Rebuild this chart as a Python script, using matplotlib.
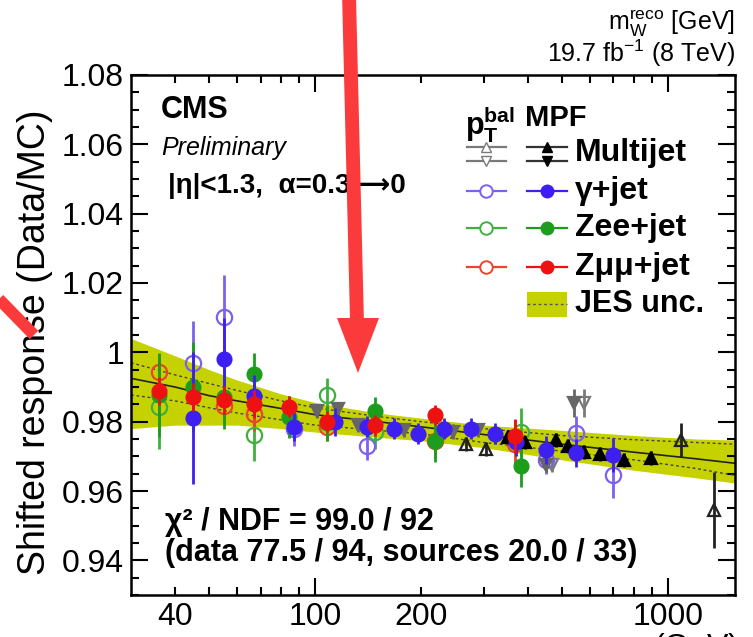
import matplotlib
matplotlib.use("Agg")
import matplotlib.pyplot as plt
from matplotlib.lines import Line2D
from matplotlib.patches import Polygon, Rectangle
from matplotlib.ticker import FixedLocator, FixedFormatter

plt.rcParams['font.family'] = ['Liberation Sans', 'DejaVu Sans']
plt.rcParams['mathtext.fontset'] = 'custom'
plt.rcParams['mathtext.rm'] = 'Liberation Sans'
plt.rcParams['mathtext.it'] = 'Liberation Sans:italic'
plt.rcParams['mathtext.bf'] = 'Liberation Sans:bold'

# JES uncertainty band and fit line
band_x = [30, 40, 50, 60, 80, 100, 150, 200, 300, 500, 800, 1200, 1550]
band_hi = [1.004, 0.999, 0.995, 0.992, 0.988, 0.9855, 0.9825, 0.981, 0.979, 0.9775, 0.976, 0.975, 0.9747]
band_lo = [0.978, 0.979, 0.979, 0.979, 0.978, 0.977, 0.9755, 0.9745, 0.9725, 0.969, 0.966, 0.9638, 0.9623]
fit_y = [0.9925, 0.990, 0.9875, 0.986, 0.9838, 0.982, 0.980, 0.9785, 0.9763, 0.9735, 0.9712, 0.9693, 0.968]
dot_hi = [0.997, 0.9935, 0.991, 0.989, 0.986, 0.984, 0.9815, 0.980, 0.978, 0.976, 0.9748, 0.974, 0.9735]
dot_lo = [0.9877, 0.986, 0.984, 0.9825, 0.9805, 0.979, 0.9775, 0.9765, 0.974, 0.9715, 0.969, 0.9665, 0.9645]

# gamma+jet
gj_mpf_x = [45, 55, 67, 87, 114, 140, 167, 195, 231, 276, 324, 370, 450, 548, 700]
gj_mpf_y = [0.9811, 0.998, 0.9874, 0.9785, 0.980, 0.9785, 0.978, 0.9765, 0.978, 0.978, 0.9765, 0.974, 0.9718, 0.971, 0.9704]
gj_mpf_e = [0.019, 0.012, 0.006, 0.004, 0.004, 0.003, 0.003, 0.003, 0.003, 0.003, 0.003, 0.004, 0.004, 0.004, 0.005]
gj_bal_x = [45, 55, 87, 140, 450, 548, 700]
gj_bal_y = [0.9969, 1.0102, 0.978, 0.973, 0.969, 0.9767, 0.9646]
gj_bal_e = [0.012, 0.012, 0.005, 0.004, 0.004, 0.005, 0.0065]

# Zee+jet
zee_mpf_x = [36, 45, 55, 67, 84, 108, 148, 218, 382]
zee_mpf_y = [0.9877, 0.990, 0.987, 0.9938, 0.9814, 0.9795, 0.9831, 0.9744, 0.9672]
zee_mpf_e = [0.012, 0.013, 0.009, 0.006, 0.006, 0.005, 0.004, 0.006, 0.006]
zee_bal_x = [36, 67, 108, 148, 382]
zee_bal_y = [0.9842, 0.9762, 0.9877, 0.977, 0.977]
zee_bal_e = [0.012, 0.0075, 0.005, 0.005, 0.007]

# Zmumu+jet
zmm_mpf_x = [36, 45, 55, 67, 84, 108, 148, 218, 368]
zmm_mpf_y = [0.9889, 0.9871, 0.9863, 0.9851, 0.9843, 0.980, 0.979, 0.9819, 0.9759]
zmm_mpf_e = [0.004, 0.004, 0.004, 0.004, 0.003, 0.003, 0.003, 0.003, 0.005]
zmm_bal_x = [36, 55, 67, 108, 218, 368]
zmm_bal_y = [0.9943, 0.9845, 0.9822, 0.9785, 0.9745, 0.9735]
zmm_bal_e = [0.005, 0.005, 0.005, 0.004, 0.005, 0.007]

# multijet
mj_mpf_x = [351, 394, 483, 520, 577, 643, 750, 895]
mj_mpf_y = [0.9756, 0.974, 0.9747, 0.973, 0.9712, 0.9707, 0.969, 0.9695]
mj_mpf_e = [0.002, 0.002, 0.002, 0.002, 0.002, 0.002, 0.002, 0.002]
mj_bal_x = [268, 305, 1087, 1350]
mj_bal_y = [0.9735, 0.972, 0.9747, 0.9545]
mj_bal_e = [0.002, 0.002, 0.005, 0.011]
mjd_mpf_x = [101, 116, 132, 178, 246, 290, 450, 541]
mjd_mpf_y = [0.983, 0.9837, 0.979, 0.9775, 0.977, 0.9775, 0.9675, 0.9854]
mjd_mpf_e = [0.002, 0.002, 0.002, 0.002, 0.002, 0.002, 0.002, 0.004]
mjd_bal_x = [470, 577]
mjd_bal_y = [0.9675, 0.9854]
mjd_bal_e = [0.002, 0.004]

x_major = [100, 1000]
x_minor = [40, 50, 60, 70, 80, 90, 200, 300, 400, 500, 600, 700, 800, 900]
x_minor_labels = ['40', '', '', '', '', '', '200', '', '', '', '', '', '', '']
y_ticks = [0.94, 0.96, 0.98, 1.00, 1.02, 1.04, 1.06, 1.08]
y_labels = ['0.94', '0.96', '0.98', '1', '1.02', '1.04', '1.06', '1.08']

W, H = 753, 637
fig = plt.figure(figsize=(W / 100, H / 100), dpi=100)
ax = fig.add_axes([131 / W, 1 - 595 / H, 604 / W, 520 / H])

band_col = '#c6d200'
ax.fill_between(band_x, band_lo, band_hi, color=band_col, lw=0, zorder=1)
ax.plot(band_x, fit_y, color='#222222', lw=1.2, zorder=2)
ax.plot(band_x, dot_hi, color='#444444', lw=1.0, ls=(0, (2, 2)), zorder=2)
ax.plot(band_x, dot_lo, color='#444444', lw=1.0, ls=(0, (2, 2)), zorder=2)

blue = '#3d1ff0'
purple = '#7c60f0'
green = '#1c9e1c'
lgreen = '#3fb03f'
red = '#ee1111'
lred = '#e8452c'
gray = '#7a7a7a'


def draw(x, y, e, color, marker, ms, filled, z):
    ax.errorbar(x, y, yerr=e, fmt=marker, color=color, ms=ms,
                mfc=color if filled else 'none', mec=color, mew=1.6,
                elinewidth=2.0, capsize=0, zorder=z)


draw(gj_bal_x, gj_bal_y, gj_bal_e, purple, 'o', 11, False, 3)
draw(zee_bal_x, zee_bal_y, zee_bal_e, lgreen, 'o', 11, False, 3)
draw(zmm_bal_x, zmm_bal_y, zmm_bal_e, lred, 'o', 11, False, 3)
draw(mj_bal_x, mj_bal_y, mj_bal_e, '#222222', '^', 9, False, 3)
draw(mjd_bal_x, mjd_bal_y, mjd_bal_e, gray, 'v', 9, False, 3)
draw(mjd_mpf_x, mjd_mpf_y, mjd_mpf_e, '#666666', 'v', 8, True, 4)
draw(mj_mpf_x, mj_mpf_y, mj_mpf_e, 'black', '^', 9, True, 4)
draw(zee_mpf_x, zee_mpf_y, zee_mpf_e, green, 'o', 10, True, 4)
draw(gj_mpf_x, gj_mpf_y, gj_mpf_e, blue, 'o', 10, True, 5)
draw(zmm_mpf_x, zmm_mpf_y, zmm_mpf_e, red, 'o', 10, True, 6)

ax.set_xscale('log')
ax.set_xlim(30, 1550)
ax.set_ylim(0.93, 1.08)
ax.xaxis.set_major_locator(FixedLocator(x_major))
ax.xaxis.set_major_formatter(FixedFormatter(['100', '1000']))
ax.xaxis.set_minor_locator(FixedLocator(x_minor))
ax.xaxis.set_minor_formatter(FixedFormatter(x_minor_labels))
ax.set_yticks(y_ticks, labels=y_labels)
ax.set_yticks([0.93 + 0.005 * i for i in range(31)], minor=True)
ax.tick_params(which='both', direction='in', top=True, right=True, width=1.5, labelsize=23)
ax.tick_params(which='major', length=12)
ax.tick_params(which='minor', length=6)
ax.tick_params(axis='x', which='both', pad=5)
ax.tick_params(axis='y', which='both', pad=5)
for s in ax.spines.values():
    s.set_linewidth(1.8)

fig.text(35 / W, 1 - 342 / H, 'Shifted response (Data/MC)', rotation=90,
         ha='center', va='center', fontsize=27)
# x-axis title, mostly cut off by the lower edge as in the reference
fig.text(738 / W, 1 - 631 / H, r'$p_{T}$ (GeV)', ha='right', va='top', fontsize=23)
fig.text(735 / W, 1 - 30 / H, r'm$_{\mathrm{W}}^{\mathrm{reco}}$ [GeV]', ha='right',
         va='baseline', fontsize=18)
fig.text(735 / W, 1 - 62 / H, r'19.7 fb$^{-1}$ (8 TeV)', ha='right',
         va='baseline', fontsize=18)

ax.text(0.05, 0.917, 'CMS', transform=ax.transAxes, fontsize=22,
        fontweight='bold', va='baseline')
ax.text(0.05, 0.846, 'Preliminary', transform=ax.transAxes, fontsize=18,
        fontstyle='italic', va='baseline')
ax.text(0.062, 0.774, '|η|<1.3,  α=0.3⟶0', transform=ax.transAxes,
        fontsize=20, fontweight='bold', va='baseline')
ax.text(0.056, 0.125, 'χ² / NDF = 99.0 / 92', transform=ax.transAxes,
        fontsize=22, fontweight='bold', va='baseline')
ax.text(0.056, 0.065, '(data 77.5 / 94, sources 20.0 / 33)', transform=ax.transAxes,
        fontsize=22, fontweight='bold', va='baseline')

# legend
tr = ax.transAxes
lx = (0.556, 0.621)
rx = (0.656, 0.722)
ax.text(0.553, 0.905, r'$\mathbf{p}_{\mathbf{T}}^{\mathbf{bal}}$', transform=tr,
        fontsize=22, va='center', ha='left')
ax.text(0.652, 0.917, 'MPF', transform=tr, fontsize=21, fontweight='bold', va='center')
for yy, mk in ((0.8615, '^'), (0.8346, 'v')):
    ax.plot(lx, (yy, yy), color=gray, lw=1.6, transform=tr, clip_on=False)
    ax.plot([sum(lx) / 2], [yy], mk, ms=7, mfc='white', mec=gray, transform=tr, clip_on=False)
    ax.plot(rx, (yy, yy), color='#333333', lw=1.6, transform=tr, clip_on=False)
    ax.plot([sum(rx) / 2], [yy], mk, ms=7, color='black', transform=tr, clip_on=False)
ax.text(0.735, 0.85, 'Multijet', transform=tr, fontsize=23, fontweight='bold', va='center')
rows = [(0.777, purple, blue, 'γ+jet'),
        (0.706, lgreen, green, 'Zee+jet'),
        (0.631, lred, red, 'Zμμ+jet')]
for yy, c_open, c_fill, lab in rows:
    ax.plot(lx, (yy, yy), color=c_open, lw=1.6, transform=tr, clip_on=False)
    ax.plot([sum(lx) / 2], [yy], 'o', ms=9, mfc='white', mec=c_open, mew=1.4,
            transform=tr, clip_on=False)
    ax.plot(rx, (yy, yy), color=c_fill, lw=1.6, transform=tr, clip_on=False)
    ax.plot([sum(rx) / 2], [yy], 'o', ms=9, color=c_fill, transform=tr, clip_on=False)
    ax.text(0.735, yy, lab, transform=tr, fontsize=23, fontweight='bold', va='center')
ax.add_patch(Rectangle((0.656, 0.535), 0.066, 0.048, transform=tr, color=band_col,
                       lw=0, zorder=5))
ax.plot(rx, (0.559, 0.559), color='#555555', lw=1.0, ls=(0, (2, 2)), transform=tr, zorder=6)
ax.text(0.735, 0.559, 'JES unc.', transform=tr, fontsize=22, fontweight='bold', va='center')


# red overlay arrows
def fx(p):
    return p / W


def fy(p):
    return 1 - p / H


arrow_red = '#fb3b3b'
fig.add_artist(Line2D([fx(349), fx(357)], [fy(-5), fy(322)], color=arrow_red,
                      lw=10, solid_capstyle='butt', zorder=20))
fig.add_artist(Polygon([(fx(337), fy(318)), (fx(379), fy(318)), (fx(358), fy(373))],
                       closed=True, color=arrow_red, lw=0, zorder=20))
fig.add_artist(Line2D([fx(-5), fx(34)], [fy(295), fy(335)], color=arrow_red,
                      lw=8.5, solid_capstyle='butt', zorder=20))

fig.savefig('out.png', dpi=100)
